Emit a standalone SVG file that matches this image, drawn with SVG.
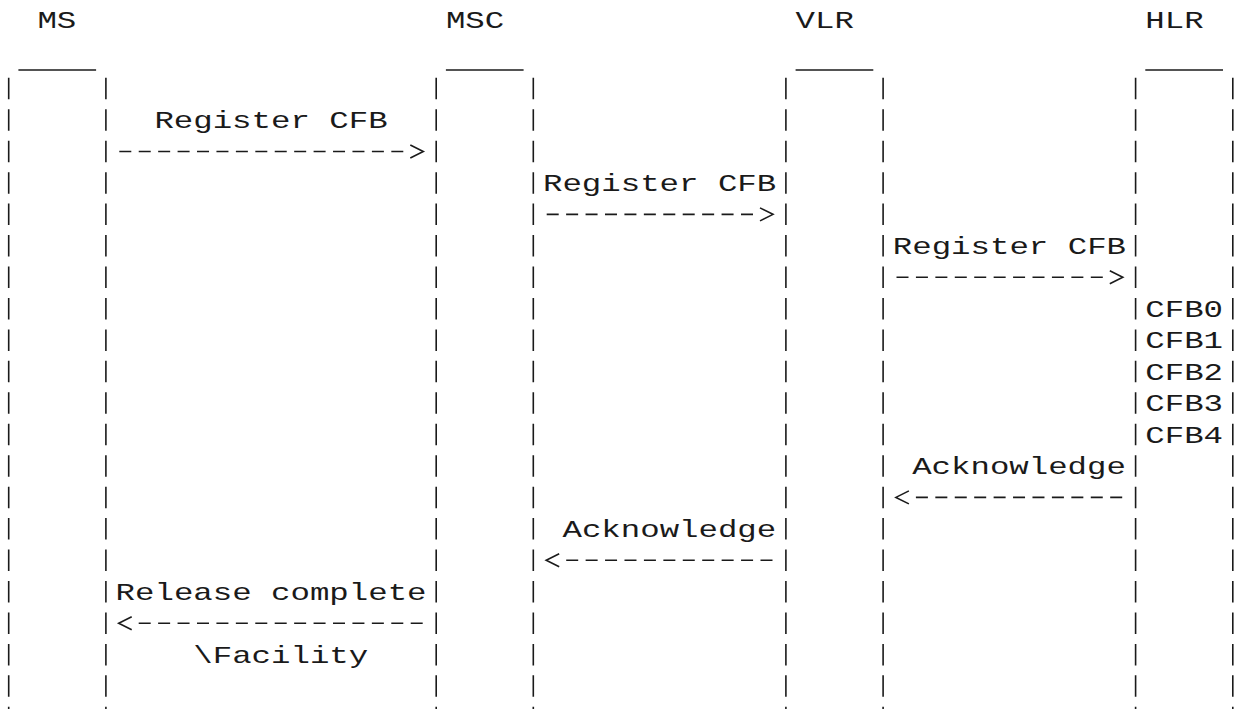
<svg xmlns="http://www.w3.org/2000/svg" width="1240" height="709" viewBox="0 0 1240 709">
<style>
text{font-family:"Liberation Mono","DejaVu Sans Mono",monospace;font-size:24px;fill:#1a1a1a}
.life{stroke:#1a1a1a;stroke-width:1.6;stroke-dasharray:21.5 9.95;fill:none}
.under{stroke:#1a1a1a;stroke-width:1.6}
.msg{stroke:#1a1a1a;stroke-width:1.6;stroke-dasharray:12 7.43;fill:none}
.fwd{marker-end:url(#chev)}
.back{marker-start:url(#chev)}
</style>
<defs>
<marker id="chev" markerUnits="userSpaceOnUse" markerWidth="14" markerHeight="14" refX="-7" refY="6.5" orient="auto-start-reverse" overflow="visible">
<path d="M0,0 L13,6.5 L0,13" fill="none" stroke="#1a1a1a" stroke-width="1.6"/>
</marker>
</defs>
<rect width="1240" height="709" fill="#fff"/>
<g id="node-ms">
<text x="37.4" y="28" textLength="38.9" lengthAdjust="spacingAndGlyphs">MS</text>
<line class="under" x1="18.4" y1="70" x2="96.1" y2="70"/>
<line class="life" x1="8.7" y1="77.8" x2="8.7" y2="709"/>
<line class="life" x1="105.9" y1="77.8" x2="105.9" y2="709"/>
</g>
<g id="node-msc">
<text x="445.9" y="28" textLength="58.3" lengthAdjust="spacingAndGlyphs">MSC</text>
<line class="under" x1="445.9" y1="70" x2="523.6" y2="70"/>
<line class="life" x1="436.2" y1="77.8" x2="436.2" y2="709"/>
<line class="life" x1="533.3" y1="77.8" x2="533.3" y2="709"/>
</g>
<g id="node-vlr">
<text x="795.6" y="28" textLength="58.3" lengthAdjust="spacingAndGlyphs">VLR</text>
<line class="under" x1="795.6" y1="70" x2="873.3" y2="70"/>
<line class="life" x1="785.9" y1="77.8" x2="785.9" y2="709"/>
<line class="life" x1="883.1" y1="77.8" x2="883.1" y2="709"/>
</g>
<g id="node-hlr">
<text x="1145.3" y="28" textLength="58.3" lengthAdjust="spacingAndGlyphs">HLR</text>
<line class="under" x1="1145.3" y1="70" x2="1223" y2="70"/>
<line class="life" x1="1135.6" y1="77.8" x2="1135.6" y2="709"/>
<line class="life" x1="1232.8" y1="77.8" x2="1232.8" y2="709"/>
<text x="1145.3" y="316.7" textLength="77.7" lengthAdjust="spacingAndGlyphs">CFB0</text>
<text x="1145.3" y="348.15" textLength="77.7" lengthAdjust="spacingAndGlyphs">CFB1</text>
<text x="1145.3" y="379.6" textLength="77.7" lengthAdjust="spacingAndGlyphs">CFB2</text>
<text x="1145.3" y="411.05" textLength="77.7" lengthAdjust="spacingAndGlyphs">CFB3</text>
<text x="1145.3" y="442.5" textLength="77.7" lengthAdjust="spacingAndGlyphs">CFB4</text>
</g>
<g id="connectors">
<line class="msg fwd" x1="119.3" y1="151.45" x2="403.3" y2="151.45"/>
<line class="msg fwd" x1="546.7" y1="214.35" x2="753" y2="214.35"/>
<line class="msg fwd" x1="896.5" y1="277.25" x2="1102.8" y2="277.25"/>
<line class="msg back" x1="915.9" y1="497.4" x2="1122.2" y2="497.4"/>
<line class="msg back" x1="566.2" y1="560.3" x2="772.5" y2="560.3"/>
<line class="msg back" x1="138.7" y1="623.2" x2="422.7" y2="623.2"/>
</g>
<g id="labels">
<text x="154.4" y="128" textLength="233.2" lengthAdjust="spacingAndGlyphs">Register CFB</text>
<text x="543.0" y="190.9" textLength="233.2" lengthAdjust="spacingAndGlyphs">Register CFB</text>
<text x="892.8" y="253.8" textLength="233.2" lengthAdjust="spacingAndGlyphs">Register CFB</text>
<text x="912.2" y="473.95" textLength="213.7" lengthAdjust="spacingAndGlyphs">Acknowledge</text>
<text x="562.5" y="536.85" textLength="213.7" lengthAdjust="spacingAndGlyphs">Acknowledge</text>
<text x="115.6" y="599.75" textLength="310.9" lengthAdjust="spacingAndGlyphs">Release complete</text>
<text x="193.3" y="662.65" textLength="174.9" lengthAdjust="spacingAndGlyphs">\Facility</text>
</g>
</svg>
